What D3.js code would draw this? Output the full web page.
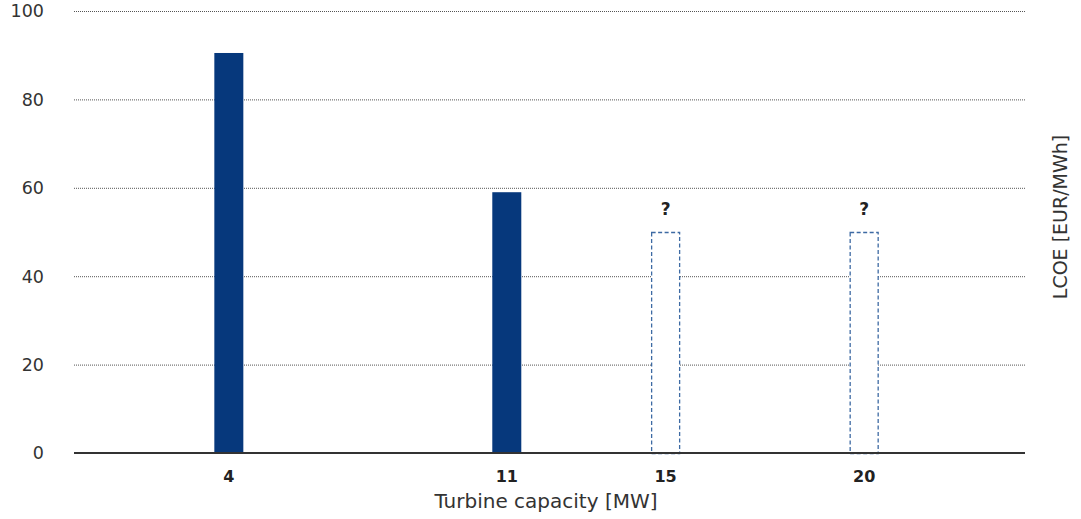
<!DOCTYPE html>
<html><head><meta charset="utf-8">
<script src="https://cdn.jsdelivr.net/npm/d3@7"></script>
<style>body{margin:0;background:#fff;} svg{display:block;font-family:"DejaVu Sans",sans-serif;}</style>
</head><body>
<svg id="c" width="1081" height="519"></svg>
<script>
const capacities = [4, 11, 15, 20];
const lcoe = [90.5, 59.0, 50, 50];
const known = [true, true, false, false];
const yTicks = [0, 20, 40, 60, 80, 100];
const xTitle = "Turbine capacity [MW]";
const yTitle = "LCOE [EUR/MWh]";

const svg = d3.select("#c");
const plotL = 74, plotR = 1025;
const x = d3.scaleLinear().domain([0, 24]).range([70, 1023]);
const y = d3.scaleLinear().domain([0, 100]).range([453, 11]);
const barW = 29;

// gridlines
svg.append("g").selectAll("line").data(yTicks.filter(d => d > 0)).join("line")
  .attr("x1", plotL).attr("x2", plotR)
  .attr("y1", d => y(d) + 0.5).attr("y2", d => y(d) + 0.5)
  .attr("stroke", "#555").attr("stroke-width", 1).attr("stroke-dasharray", "1,1");

// y tick labels
svg.append("g").selectAll("text").data(yTicks).join("text")
  .attr("x", 44).attr("y", d => y(d)).attr("dy", "0.36em")
  .attr("text-anchor", "end").attr("font-size", 17.5).attr("fill", "#333")
  .text(d => d);

const data = capacities.map((c, i) => ({c, v: lcoe[i], k: known[i]}));

// solid bars
svg.append("g").selectAll("rect").data(data.filter(d => d.k)).join("rect")
  .attr("x", d => x(d.c) - barW / 2).attr("width", barW)
  .attr("y", d => y(d.v)).attr("height", d => y(0) - y(d.v))
  .attr("fill", "#06387c");

// dashed bars
svg.append("g").selectAll("rect").data(data.filter(d => !d.k)).join("rect")
  .attr("x", d => x(d.c) - barW / 2 + 0.5).attr("width", barW - 1)
  .attr("y", d => y(d.v) + 0.5).attr("height", d => y(0) - y(d.v))
  .attr("fill", "#fff").attr("stroke", "#3d6aa3").attr("stroke-width", 1.3)
  .attr("stroke-dasharray", "4,2.5");

// question marks
svg.append("g").selectAll("text").data(data.filter(d => !d.k)).join("text")
  .attr("x", d => x(d.c)).attr("y", d => y(d.v) - 17)
  .attr("text-anchor", "middle").attr("font-size", 17).attr("font-weight", "bold")
  .attr("fill", "#222").text("?");

// baseline
svg.append("line").attr("x1", plotL).attr("x2", plotR)
  .attr("y1", y(0)).attr("y2", y(0)).attr("stroke", "#333").attr("stroke-width", 2);

// x tick labels
svg.append("g").selectAll("text").data(capacities).join("text")
  .attr("x", d => x(d)).attr("y", 482)
  .attr("text-anchor", "middle").attr("font-size", 16).attr("font-weight", "bold")
  .attr("fill", "#222").text(d => d);

// titles
svg.append("text").attr("x", 546).attr("y", 508).attr("text-anchor", "middle")
  .attr("font-size", 20).attr("fill", "#333").text(xTitle);
svg.append("text").attr("transform", "translate(1067,217) rotate(-90)")
  .attr("text-anchor", "middle").attr("font-size", 19).attr("fill", "#333").text(yTitle);
</script>
</body></html>
